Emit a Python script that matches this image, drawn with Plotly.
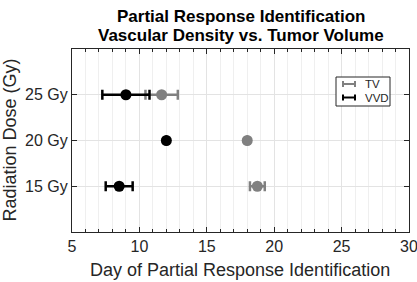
import plotly.graph_objects as go

doses = [15, 20, 25]
dose_labels = ["15 Gy", "20 Gy", "25 Gy"]
vvd_day = [8.5, 12.0, 9.0]
vvd_err = [1.0, 0.0, 1.75]
tv_day = [18.75, 18.0, 11.65]
tv_err = [0.55, 0.0, 1.2]

fig = go.Figure()
fig.add_trace(go.Scatter(
    x=tv_day, y=doses, mode="markers", name="TV",
    marker=dict(color="#808080", size=11),
    error_x=dict(type="data", array=tv_err, color="#808080", thickness=2.5, width=5),
    showlegend=False))
fig.add_trace(go.Scatter(
    x=vvd_day, y=doses, mode="markers", name="VVD",
    marker=dict(color="#000000", size=11),
    error_x=dict(type="data", array=vvd_err, color="#000000", thickness=2.5, width=5),
    showlegend=False))

W, H = 417, 282
L, R, T, B = 72, 8, 49, 50
pw, ph = W - L - R, H - T - B

def px(x):
    return (x - L) / pw

def py(y):
    return (H - B - y) / ph

FONT = "Liberation Sans, Arial, sans-serif"
shapes = [
    dict(type="rect", xref="paper", yref="paper", x0=px(336), x1=px(390), y0=py(106), y1=py(77),
         line=dict(color="#262626", width=1), fillcolor="white"),
]
annotations = []
for ypix, col, txt in [(84, "#808080", "TV"), (97.5, "#000000", "VVD")]:
    shapes.append(dict(type="line", xref="paper", yref="paper", x0=px(343), x1=px(355), y0=py(ypix), y1=py(ypix),
                       line=dict(color=col, width=2)))
    for xx in (343, 355):
        shapes.append(dict(type="line", xref="paper", yref="paper", x0=px(xx), x1=px(xx), y0=py(ypix - 3), y1=py(ypix + 3),
                           line=dict(color=col, width=2)))
    annotations.append(dict(xref="paper", yref="paper", x=px(364), y=py(ypix), text=txt, showarrow=False,
                            xanchor="left", yanchor="middle", borderpad=0,
                            font=dict(size=11.5, color="#262626", family=FONT)))

# titles
annotations.append(dict(xref="paper", yref="paper", x=px(241), y=py(16.5), text="<b>Partial Response Identification</b>",
                        showarrow=False, xanchor="center", yanchor="middle", borderpad=0,
                        font=dict(size=17, color="#000000", family=FONT)))
annotations.append(dict(xref="paper", yref="paper", x=px(241), y=py(35.5), text="<b>Vascular Density vs. Tumor Volume</b>",
                        showarrow=False, xanchor="center", yanchor="middle", borderpad=0,
                        font=dict(size=17, color="#000000", family=FONT)))
annotations.append(dict(xref="paper", yref="paper", x=px(240), y=py(270), text="Day of Partial Response Identification",
                        showarrow=False, xanchor="center", yanchor="middle", borderpad=0,
                        font=dict(size=18, color="#262626", family=FONT)))
annotations.append(dict(xref="paper", yref="paper", x=px(9.5), y=py(140), text="Radiation Dose (Gy)", textangle=-90,
                        showarrow=False, xanchor="center", yanchor="middle", borderpad=0,
                        font=dict(size=18, color="#262626", family=FONT)))

fig.update_layout(
    width=W, height=H,
    margin=dict(l=L, r=R, t=T, b=B, autoexpand=False),
    paper_bgcolor="white", plot_bgcolor="white",
    font=dict(family=FONT, color="#262626"),
    shapes=shapes, annotations=annotations,
    showlegend=False,
)
fig.update_xaxes(
    range=[5, 30], tickvals=[5, 10, 15, 20, 25, 30], ticks="inside", ticklen=5, tickcolor="#262626",
    showline=True, linecolor="#262626", linewidth=1, mirror="allticks", automargin=False,
    ticklabeloverflow="allow",
    showgrid=True, gridcolor="#e3e3e3", zeroline=False,
    minor=dict(dtick=1, ticks="inside", ticklen=3, tickcolor="#262626", showgrid=True, gridcolor="#efefef"),
    tickfont=dict(size=16, color="#262626"),
)
fig.update_yaxes(
    range=[10, 30], tickvals=doses, ticktext=dose_labels, ticks="inside", ticklen=5, tickcolor="#262626",
    showline=True, linecolor="#262626", linewidth=1, mirror="allticks", automargin=False,
    showgrid=True, gridcolor="#e3e3e3", zeroline=False,
    tickfont=dict(size=16, color="#262626"),
)
fig.write_html("out.html")
